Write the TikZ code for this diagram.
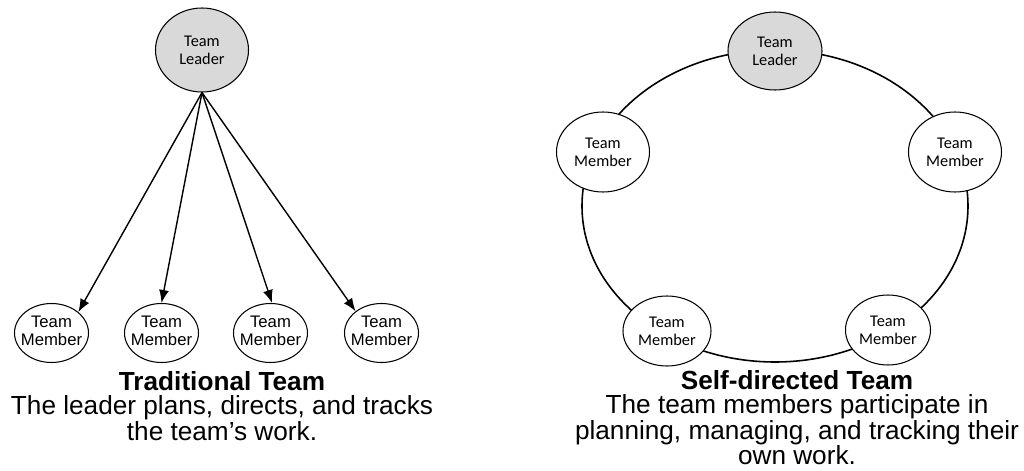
\documentclass[tikz,border=0pt]{standalone}
\usepackage{fontspec}
\setmainfont{Liberation Sans}
\newfontfamily\calfont{Carlito}
\usetikzlibrary{arrows.meta,shapes.geometric}

\newcommand{\memtext}{\makebox[0pt]{\fontsize{9.5}{9.7}\selectfont
  \begin{tabular}{@{}c@{}}Team\\Member\end{tabular}}}

\tikzset{
  leader/.style={draw,ellipse,fill=black!15,semithick,inner sep=0pt,
    align=center,font=\calfont\fontsize{9.3}{10.2}\selectfont},
  member/.style={draw,ellipse,fill=white,semithick,inner sep=0pt,
    align=center,font=\calfont\fontsize{9.3}{10.2}\selectfont},
  smallmember/.style={draw,ellipse,fill=white,semithick,inner sep=0pt,
    minimum width=1.48cm,minimum height=1.18cm},
  caption/.style={align=center,inner sep=0pt,anchor=north,
    font=\fontsize{14.9}{14.5}\selectfont},
  arr/.style={-{Latex[length=2.6mm,width=2mm]},line width=0.8pt}
}

\begin{document}
\begin{tikzpicture}
  \useasboundingbox (0,0) rectangle (20.48,9.4);

  % Traditional team
  \node[leader,minimum width=1.86cm,minimum height=1.68cm] (lead) at (4.04,8.40) {Team\\Leader};

  \node[smallmember] (m1) at (1.03,2.74) {\memtext};
  \node[smallmember] (m2) at (3.23,2.74) {\memtext};
  \node[smallmember] (m3) at (5.41,2.74) {\memtext};
  \node[smallmember] (m4) at (7.63,2.74) {\memtext};

  % Arrows from the leader
  \draw[arr] (lead.south) -- (m1.38);
  \draw[arr] (lead.south) -- (m2.north);
  \draw[arr] (lead.south) -- (m3.87);
  \draw[arr] (lead.south) -- (m4.140);

  \node[caption] (tradtext) at (4.44,1.97)
    {{\bfseries Traditional Team}\\[-0.8pt]
     The leader plans, directs, and tracks\\
     the team’s work.};

  % Self-directed team
  \node[draw,ellipse,line width=0.9pt,minimum width=7.72cm,minimum height=6.24cm] (ring) at (15.5,5.28) {};

  \node[leader,minimum width=1.88cm,minimum height=1.56cm] (top) at (15.5,8.38) {Team\\Leader};
  \node[member,minimum width=1.86cm,minimum height=1.6cm] (left) at (12.06,6.36) {Team\\Member};
  \node[member,minimum width=1.86cm,minimum height=1.6cm] (right) at (19.1,6.36) {Team\\Member};
  \node[member,minimum width=1.76cm,minimum height=1.4cm] (botleft) at (13.34,2.78) {Team\\Member};
  \node[member,minimum width=1.70cm,minimum height=1.4cm] (botright) at (17.76,2.8) {Team\\Member};

  \node[caption] (selftext) at (15.94,1.99)
    {{\bfseries Self-directed Team}\\[-0.8pt]
     The team members participate in\\
     planning, managing, and tracking their\\
     own work.};
\end{tikzpicture}
\end{document}
